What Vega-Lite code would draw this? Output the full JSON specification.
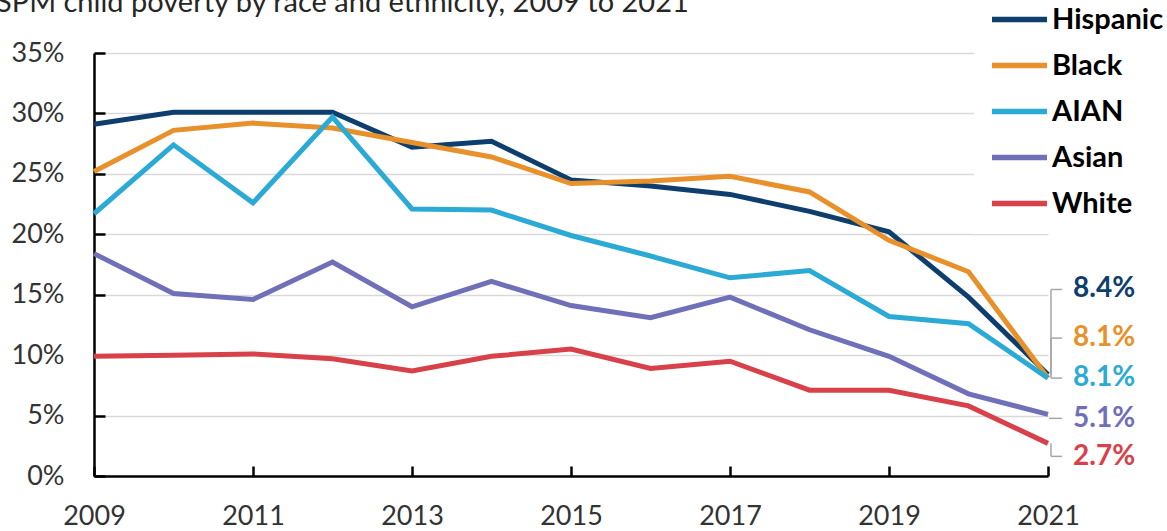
{
  "$schema": "https://vega.github.io/schema/vega-lite/v6.json",
  "width": 954,
  "height": 423,
  "autosize": {"type": "none"},
  "padding": {"left": 94, "top": 53, "right": 119, "bottom": 55},
  "background": "white",
  "title": {
    "text": "SPM child poverty by race and ethnicity, 2009 to 2021",
    "anchor": "start",
    "frame": "group",
    "font": "Lato",
    "fontSize": 29,
    "fontWeight": "normal",
    "color": "#262626",
    "dx": -98,
    "dy": 74,
    "offset": 30
  },
  "config": {
    "view": {"stroke": null},
    "axis": {"labelFont": "Lato", "labelFontSize": 27, "labelColor": "#333333", "labelFlush": false}
  },
  "data": {
    "values": [
      {"year": 2009, "group": "White", "rate": 0.099},
      {"year": 2010, "group": "White", "rate": 0.100},
      {"year": 2011, "group": "White", "rate": 0.101},
      {"year": 2012, "group": "White", "rate": 0.097},
      {"year": 2013, "group": "White", "rate": 0.087},
      {"year": 2014, "group": "White", "rate": 0.099},
      {"year": 2015, "group": "White", "rate": 0.105},
      {"year": 2016, "group": "White", "rate": 0.089},
      {"year": 2017, "group": "White", "rate": 0.095},
      {"year": 2018, "group": "White", "rate": 0.071},
      {"year": 2019, "group": "White", "rate": 0.071},
      {"year": 2020, "group": "White", "rate": 0.058},
      {"year": 2021, "group": "White", "rate": 0.027},
      {"year": 2009, "group": "Asian", "rate": 0.184},
      {"year": 2010, "group": "Asian", "rate": 0.151},
      {"year": 2011, "group": "Asian", "rate": 0.146},
      {"year": 2012, "group": "Asian", "rate": 0.177},
      {"year": 2013, "group": "Asian", "rate": 0.140},
      {"year": 2014, "group": "Asian", "rate": 0.161},
      {"year": 2015, "group": "Asian", "rate": 0.141},
      {"year": 2016, "group": "Asian", "rate": 0.131},
      {"year": 2017, "group": "Asian", "rate": 0.148},
      {"year": 2018, "group": "Asian", "rate": 0.121},
      {"year": 2019, "group": "Asian", "rate": 0.099},
      {"year": 2020, "group": "Asian", "rate": 0.068},
      {"year": 2021, "group": "Asian", "rate": 0.051},
      {"year": 2009, "group": "Hispanic", "rate": 0.291},
      {"year": 2010, "group": "Hispanic", "rate": 0.301},
      {"year": 2011, "group": "Hispanic", "rate": 0.301},
      {"year": 2012, "group": "Hispanic", "rate": 0.301},
      {"year": 2013, "group": "Hispanic", "rate": 0.272},
      {"year": 2014, "group": "Hispanic", "rate": 0.277},
      {"year": 2015, "group": "Hispanic", "rate": 0.245},
      {"year": 2016, "group": "Hispanic", "rate": 0.240},
      {"year": 2017, "group": "Hispanic", "rate": 0.233},
      {"year": 2018, "group": "Hispanic", "rate": 0.219},
      {"year": 2019, "group": "Hispanic", "rate": 0.202},
      {"year": 2020, "group": "Hispanic", "rate": 0.148},
      {"year": 2021, "group": "Hispanic", "rate": 0.084},
      {"year": 2009, "group": "Black", "rate": 0.252},
      {"year": 2010, "group": "Black", "rate": 0.286},
      {"year": 2011, "group": "Black", "rate": 0.292},
      {"year": 2012, "group": "Black", "rate": 0.288},
      {"year": 2013, "group": "Black", "rate": 0.276},
      {"year": 2014, "group": "Black", "rate": 0.264},
      {"year": 2015, "group": "Black", "rate": 0.242},
      {"year": 2016, "group": "Black", "rate": 0.244},
      {"year": 2017, "group": "Black", "rate": 0.248},
      {"year": 2018, "group": "Black", "rate": 0.235},
      {"year": 2019, "group": "Black", "rate": 0.195},
      {"year": 2020, "group": "Black", "rate": 0.169},
      {"year": 2021, "group": "Black", "rate": 0.081},
      {"year": 2009, "group": "AIAN", "rate": 0.217},
      {"year": 2010, "group": "AIAN", "rate": 0.274},
      {"year": 2011, "group": "AIAN", "rate": 0.226},
      {"year": 2012, "group": "AIAN", "rate": 0.297},
      {"year": 2013, "group": "AIAN", "rate": 0.221},
      {"year": 2014, "group": "AIAN", "rate": 0.220},
      {"year": 2015, "group": "AIAN", "rate": 0.199},
      {"year": 2016, "group": "AIAN", "rate": 0.182},
      {"year": 2017, "group": "AIAN", "rate": 0.164},
      {"year": 2018, "group": "AIAN", "rate": 0.170},
      {"year": 2019, "group": "AIAN", "rate": 0.132},
      {"year": 2020, "group": "AIAN", "rate": 0.126},
      {"year": 2021, "group": "AIAN", "rate": 0.081}
    ]
  },
  "encoding": {
    "x": {
      "field": "year",
      "type": "quantitative",
      "scale": {"domain": [2009, 2021], "nice": false, "zero": false},
      "axis": {
        "title": null,
        "values": [2009, 2011, 2013, 2015, 2017, 2019, 2021],
        "format": "d",
        "grid": false,
        "domainColor": "#000000",
        "domainWidth": 2.5,
        "tickColor": "#000000",
        "tickWidth": 2.5,
        "tickSize": -10,
        "labelPadding": 37
      }
    },
    "y": {
      "field": "rate",
      "type": "quantitative",
      "scale": {"domain": [0, 0.35], "nice": false},
      "axis": {
        "title": null,
        "values": [0, 0.05, 0.1, 0.15, 0.2, 0.25, 0.3, 0.35],
        "format": ".0%",
        "grid": true,
        "gridColor": "#d9d9d9",
        "gridWidth": 1.5,
        "domainColor": "#000000",
        "domainWidth": 2.5,
        "tickColor": "#000000",
        "tickWidth": 2.5,
        "tickSize": -11,
        "labelPadding": 41
      }
    }
  },
  "layer": [
    {
      "mark": {"type": "line", "strokeWidth": 5},
      "encoding": {
        "color": {
          "field": "group",
          "type": "nominal",
          "sort": ["Hispanic", "Black", "AIAN", "Asian", "White"],
          "scale": {
            "domain": ["Hispanic", "Black", "AIAN", "Asian", "White"],
            "range": ["#0d3e6e", "#e8902a", "#2aaad4", "#7070b8", "#d8404a"]
          },
          "legend": {
            "title": null,
            "orient": "none",
            "legendX": 880,
            "legendY": -79,
            "padding": 15,
            "fillColor": "white",
            "symbolType": "stroke",
            "symbolSize": 3025,
            "symbolStrokeWidth": 5.5,
            "labelFont": "Lato",
            "labelFontSize": 29,
            "labelFontWeight": "bold",
            "labelColor": "#000000",
            "labelOffset": 2,
            "rowPadding": -6.3
          }
        }
      }
    },
    {
      "transform": [{"filter": "datum.group === 'Hispanic' && datum.year === 2021"}],
      "layer": [
        {"mark": {"type": "rule", "color": "#a6a6a6", "strokeWidth": 1.5, "xOffset": 3, "y2Offset": -85},
         "encoding": {"y2": {"field": "rate"}}},
        {"mark": {"type": "rule", "color": "#a6a6a6", "strokeWidth": 1.5, "xOffset": 3, "x2Offset": 14, "yOffset": -85},
         "encoding": {"x2": {"field": "year"}}},
        {"mark": {"type": "text", "align": "left", "baseline": "middle", "dx": 25, "dy": -85, "font": "Lato", "fontSize": 28, "fontWeight": "bold", "color": "#0d3e6e"},
         "encoding": {"text": {"field": "rate", "type": "quantitative", "format": ".1%"}}}
      ]
    },
    {
      "transform": [{"filter": "datum.group === 'Black' && datum.year === 2021"}],
      "layer": [
        {"mark": {"type": "rule", "color": "#a6a6a6", "strokeWidth": 1.5, "xOffset": 3, "y2Offset": -40},
         "encoding": {"y2": {"field": "rate"}}},
        {"mark": {"type": "rule", "color": "#a6a6a6", "strokeWidth": 1.5, "xOffset": 3, "x2Offset": 14, "yOffset": -40},
         "encoding": {"x2": {"field": "year"}}},
        {"mark": {"type": "text", "align": "left", "baseline": "middle", "dx": 25, "dy": -40, "font": "Lato", "fontSize": 28, "fontWeight": "bold", "color": "#e8902a"},
         "encoding": {"text": {"field": "rate", "type": "quantitative", "format": ".1%"}}}
      ]
    },
    {
      "transform": [{"filter": "datum.group === 'AIAN' && datum.year === 2021"}],
      "layer": [
        {"mark": {"type": "rule", "color": "#a6a6a6", "strokeWidth": 1.5, "xOffset": 3, "x2Offset": 14, "yOffset": 0},
         "encoding": {"x2": {"field": "year"}}},
        {"mark": {"type": "text", "align": "left", "baseline": "middle", "dx": 25, "dy": 0, "font": "Lato", "fontSize": 28, "fontWeight": "bold", "color": "#2aaad4"},
         "encoding": {"text": {"field": "rate", "type": "quantitative", "format": ".1%"}}}
      ]
    },
    {
      "transform": [{"filter": "datum.group === 'Asian' && datum.year === 2021"}],
      "layer": [
        {"mark": {"type": "rule", "color": "#a6a6a6", "strokeWidth": 1.5, "xOffset": 1, "x2Offset": 14, "yOffset": 4},
         "encoding": {"x2": {"field": "year"}}},
        {"mark": {"type": "text", "align": "left", "baseline": "middle", "dx": 25, "dy": 5, "font": "Lato", "fontSize": 28, "fontWeight": "bold", "color": "#7070b8"},
         "encoding": {"text": {"field": "rate", "type": "quantitative", "format": ".1%"}}}
      ]
    },
    {
      "transform": [{"filter": "datum.group === 'White' && datum.year === 2021"}],
      "layer": [
        {"mark": {"type": "rule", "color": "#a6a6a6", "strokeWidth": 1.5, "xOffset": 3, "y2Offset": 13},
         "encoding": {"y2": {"field": "rate"}}},
        {"mark": {"type": "rule", "color": "#a6a6a6", "strokeWidth": 1.5, "xOffset": 3, "x2Offset": 14, "yOffset": 13},
         "encoding": {"x2": {"field": "year"}}},
        {"mark": {"type": "text", "align": "left", "baseline": "middle", "dx": 25, "dy": 14, "font": "Lato", "fontSize": 28, "fontWeight": "bold", "color": "#d8404a"},
         "encoding": {"text": {"field": "rate", "type": "quantitative", "format": ".1%"}}}
      ]
    }
  ]
}
